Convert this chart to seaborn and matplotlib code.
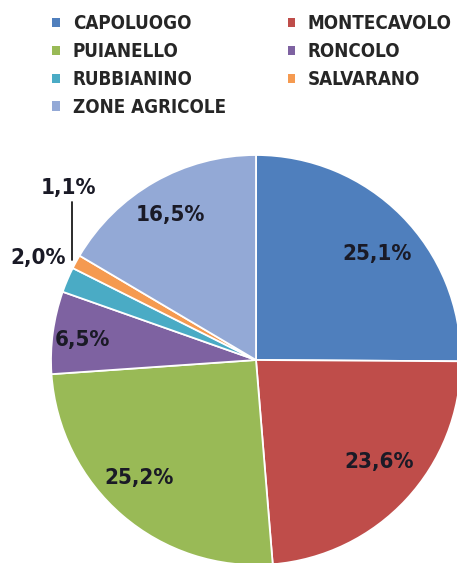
import matplotlib
matplotlib.use("Agg")
import matplotlib.pyplot as plt
import seaborn as sns
import numpy as np

# Share of residents by area
zones = ["CAPOLUOGO", "MONTECAVOLO", "PUIANELLO", "RONCOLO",
         "RUBBIANINO", "SALVARANO", "ZONE AGRICOLE"]
shares = [25.1, 23.6, 25.2, 6.5, 2.0, 1.1, 16.5]
zone_colors = ["#4F7FBD", "#BF4D4A", "#99BA56", "#7E62A1",
               "#4AABC5", "#F59A50", "#93A9D6"]

sns.set_theme(style="white")
plt.rcParams["font.family"] = ["DejaVu Sans"]
plt.rcParams["font.stretch"] = "condensed"

W, H = 457, 563
fig = plt.figure(figsize=(W / 100, H / 100), dpi=100)
ax = fig.add_axes([0, 0, 1, 1])

cx, cy, R = 256, H - 360, 205
palette = sns.color_palette(zone_colors)

wedges, _ = ax.pie(shares, colors=palette, startangle=90, counterclock=False,
                   center=(cx, cy), radius=R, frame=True,
                   wedgeprops=dict(edgecolor="white", linewidth=1.3))
ax.set_xlim(0, W)
ax.set_ylim(0, H)
ax.set_aspect("equal")
ax.axis("off")

label_kw = dict(fontsize=16, fontweight="bold", fontstretch="condensed",
                color="#1a1a26", ha="center", va="center")

def pct(v):
    return f"{v:.1f}%".replace(".", ",")

# label radius (fraction of R) and nudge in pixels for each inner label
inside = {0: (0.78, (8, -7)), 1: (0.78, (6, 7)), 2: (0.80, (-10, 6)),
          3: (0.85, (-1, -3)), 6: (0.82, (-2, -1))}
for i, (w, v) in enumerate(zip(wedges, shares)):
    if i not in inside:
        continue
    d, (ox, oy) = inside[i]
    mid = np.deg2rad((w.theta1 + w.theta2) / 2)
    ax.text(cx + d * R * np.cos(mid) + ox, cy + d * R * np.sin(mid) + oy,
            pct(v), **label_kw)

# small slices: labels outside the pie
ax.text(cx - 218, cy + 102, pct(shares[4]), **label_kw)
ax.text(cx - 188, cy + 172, pct(shares[5]), **label_kw)
ax.plot([cx - 184, cx - 184], [cy + 100, cy + 158], color="#1a1a1a", lw=1.3)

order = [0, 2, 4, 6, 1, 3, 5]
leg = fig.legend([wedges[i] for i in order], [zones[i] for i in order],
                 ncol=2, loc="upper left", bbox_to_anchor=(43 / W, 1 - 5 / H),
                 frameon=False,
                 prop=dict(weight="bold", size=13.5, stretch="condensed"),
                 handlelength=0.38, handleheight=0.38, handletextpad=0.7,
                 columnspacing=3.3, labelspacing=0.47, borderpad=0)
for h in leg.legend_handles:
    h.set_edgecolor("none")

fig.savefig("out.png", dpi=100)
